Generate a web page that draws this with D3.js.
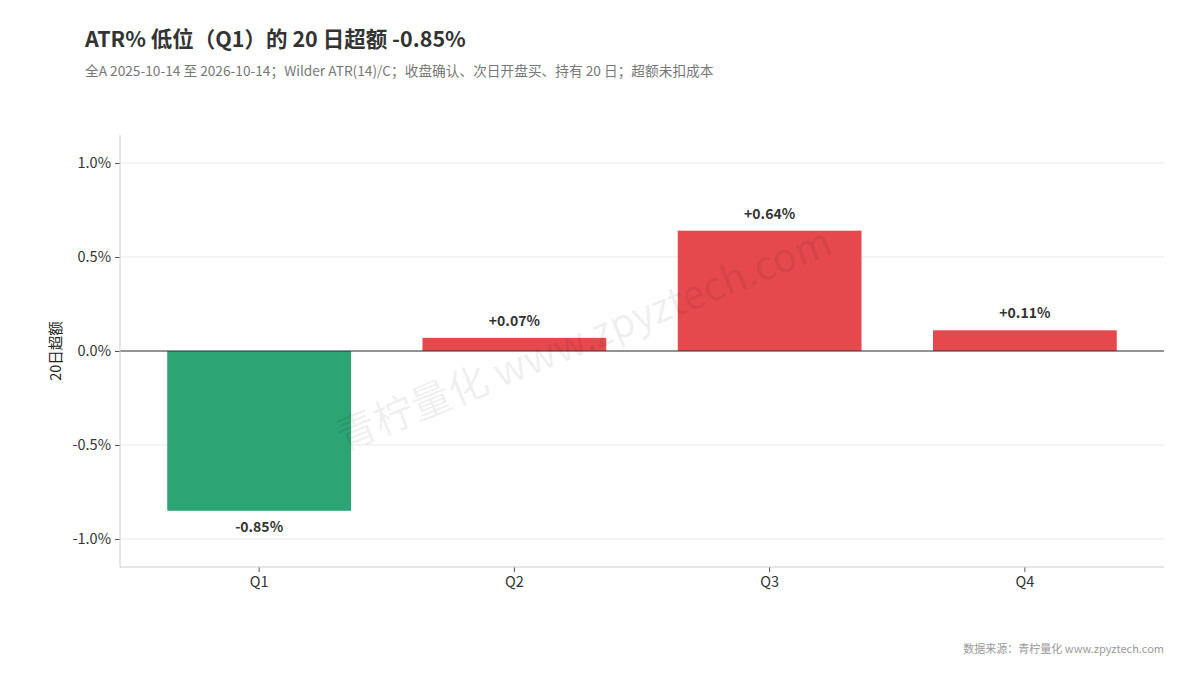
<!DOCTYPE html>
<html>
<head>
<meta charset="utf-8">
<script src="https://cdn.jsdelivr.net/npm/d3@7"></script>
<style>
  body { margin: 0; background: #fff; }
  text { font-family: "Noto Sans CJK SC", "Noto Sans", sans-serif; }
</style>
</head>
<body>
<script>
var categories = ['Q1', 'Q2', 'Q3', 'Q4'];
var values = [-0.85, 0.07, 0.64, 0.11];
var yTicks = [-1.0, -0.5, 0.0, 0.5, 1.0];

var w = 1200;
var h = 675;
var plotLeft = 120, plotRight = 1164, plotTop = 135, plotBottom = 567;

var svg = d3.select('body')
  .append('svg')
  .attr('width', w)
  .attr('height', h);

/* ===== scales ===== */

var xScale = d3.scaleBand()
  .domain(categories)
  .range([131.5, 1152.5])
  .paddingInner(0.28)
  .paddingOuter(0.14);

var yScale = d3.scaleLinear()
  .domain([-1.149, 1.149])
  .range([plotBottom, plotTop]);

/* ===== grid ===== */

svg.append('g')
  .selectAll('line')
  .data(yTicks)
  .enter()
  .append('line')
  .attr('x1', plotLeft)
  .attr('x2', plotRight)
  .attr('y1', function(d) { return yScale(d); })
  .attr('y2', function(d) { return yScale(d); })
  .attr('stroke', '#e8e8e8')
  .attr('stroke-width', 1);

/* ===== bars ===== */

svg.append('g')
  .selectAll('rect')
  .data(values)
  .enter()
  .append('rect')
  .attr('x', function(d, i) { return xScale(categories[i]); })
  .attr('width', xScale.bandwidth())
  .attr('y', function(d) { return yScale(Math.max(d, 0)); })
  .attr('height', function(d) { return Math.abs(yScale(d) - yScale(0)); })
  .attr('fill', function(d) { return d < 0 ? '#2ca474' : '#e5484d'; });

/* ===== zero line ===== */

svg.append('line')
  .attr('x1', plotLeft)
  .attr('x2', plotRight)
  .attr('y1', yScale(0))
  .attr('y2', yScale(0))
  .attr('stroke', '#333')
  .attr('stroke-width', 1);

/* ===== watermark (on top of bars) ===== */

svg.append('text')
  .attr('transform', 'translate(585,342) rotate(-22)')
  .attr('text-anchor', 'middle')
  .attr('dominant-baseline', 'middle')
  .attr('font-size', 40)
  .attr('fill', '#000')
  .attr('fill-opacity', 0.07)
  .text('青柠量化 www.zpyztech.com');

/* ===== bar labels ===== */

svg.append('g')
  .selectAll('text')
  .data(values)
  .enter()
  .append('text')
  .attr('x', function(d, i) { return xScale(categories[i]) + xScale.bandwidth() / 2; })
  .attr('y', function(d) { return d < 0 ? yScale(d) + 21 : yScale(d) - 12; })
  .attr('text-anchor', 'middle')
  .attr('font-size', 14)
  .attr('font-weight', 'bold')
  .attr('fill', '#333')
  .text(function(d) { return (d > 0 ? '+' : '') + d.toFixed(2) + '%'; });

/* ===== axes ===== */

var yAxis = d3.axisLeft(yScale)
  .tickValues(yTicks)
  .tickSize(5)
  .tickPadding(4)
  .tickFormat(function(d) { return d.toFixed(1) + '%'; });

var xAxis = d3.axisBottom(xScale)
  .tickSize(5)
  .tickPadding(5);

var gy = svg.append('g')
  .attr('transform', 'translate(' + plotLeft + ',0)')
  .call(yAxis);
gy.select('.domain').remove();
gy.append('line')
  .attr('x1', 0).attr('x2', 0)
  .attr('y1', plotTop).attr('y2', plotBottom)
  .attr('stroke', '#ccc');

var gx = svg.append('g')
  .attr('transform', 'translate(0,' + plotBottom + ')')
  .call(xAxis);
gx.select('.domain').remove();
gx.append('line')
  .attr('x1', plotLeft).attr('x2', plotRight)
  .attr('y1', 0).attr('y2', 0)
  .attr('stroke', '#ccc');

svg.selectAll('.tick line').attr('stroke', '#555');
svg.selectAll('.tick text')
  .attr('font-size', 14.5)
  .attr('fill', '#333')
  .style('font-family', '"Noto Sans CJK SC", sans-serif');

svg.append('text')
  .attr('transform', 'translate(61,' + yScale(0) + ') rotate(-90)')
  .attr('text-anchor', 'middle')
  .attr('font-size', 14.5)
  .attr('fill', '#222')
  .text('20日超额');

/* ===== titles ===== */

svg.append('text')
  .attr('x', 85)
  .attr('y', 47)
  .attr('font-size', 21.5)
  .attr('font-weight', 'bold')
  .attr('fill', '#333')
  .text('ATR% 低位（Q1）的 20 日超额 -0.85%');

svg.append('text')
  .attr('x', 85)
  .attr('y', 76)
  .attr('font-size', 13.7)
  .attr('fill', '#777')
  .text('全A 2025-10-14 至 2026-10-14；Wilder ATR(14)/C；收盘确认、次日开盘买、持有 20 日；超额未扣成本');

svg.append('text')
  .attr('x', 1164)
  .attr('y', 653)
  .attr('text-anchor', 'end')
  .attr('font-size', 11)
  .attr('fill', '#999')
  .text('数据来源：青柠量化 www.zpyztech.com');
</script>
</body>
</html>
